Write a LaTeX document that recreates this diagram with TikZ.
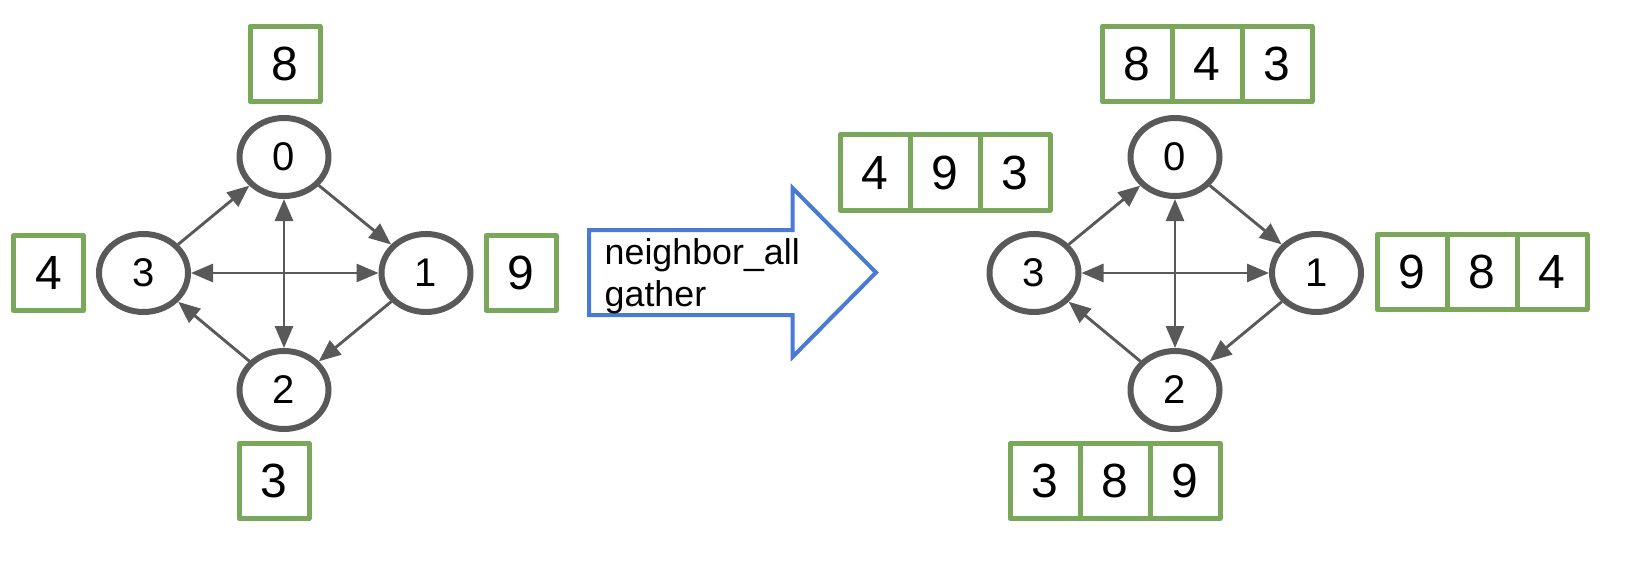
\documentclass[tikz,border=0pt]{standalone}
\usepackage{fontspec}
\setmainfont{Liberation Sans}
\usetikzlibrary{arrows.meta,shapes.geometric}
\definecolor{ggray}{HTML}{595959}
\definecolor{gbox}{HTML}{79A85B}
\definecolor{bluearrow}{HTML}{4A7BD4}
\begin{document}
\begin{tikzpicture}[x=1pt,y=-1pt,
  vnode/.style={ellipse, draw=ggray, line width=6pt, minimum width=89pt, minimum height=78pt, inner sep=0pt, font=\fontsize{40}{40}\selectfont},
  cell/.style={rectangle, draw=gbox, line width=5pt, line join=round, minimum width=70pt, minimum height=75pt, inner sep=0pt, font=\fontsize{48}{48}\selectfont},
  edge/.style={draw=ggray, line width=2.9pt, -{Triangle[length=22pt,width=18pt]}},
  bedge/.style={draw=ggray, line width=2.9pt, {Triangle[length=22pt,width=18pt]}-{Triangle[length=22pt,width=18pt]}},
  lbl/.style={anchor=base west, align=left, inner sep=0pt, font=\fontsize{35.8}{42}\selectfont}
]
\useasboundingbox (0,0) rectangle (1632,580);

% left graph
\node[vnode] (L0) at (284,157) {0};
\node[vnode] (L1) at (426,273) {1};
\node[vnode] (L2) at (284,390) {2};
\node[vnode] (L3) at (143.5,273) {3};
\draw[edge] (L0) -- (L1);
\draw[edge] (L1) -- (L2);
\draw[edge] (L2) -- (L3);
\draw[edge] (L3) -- (L0);
\draw[bedge] (L0) -- (L2);
\draw[bedge] (L3) -- (L1);

\node[cell] (b8) at (285,64) {8};
\node[cell] (b4) at (48.5,273) {4};
\node[cell] (b9) at (521,273) {9};
\node[cell] (b3) at (274,481) {3};

% big arrow
\draw[bluearrow, line width=4pt, line join=miter] (589,230) -- (792.5,230) -- (792.5,188) -- (876,272.5) -- (792.5,357) -- (792.5,315) -- (589,315) -- cycle;
\node[lbl] (txt) at (604.5,306) {neighbor\_all\\gather};

% right graph
\node[vnode] (R0) at (1175,157) {0};
\node[vnode] (R1) at (1316.5,273) {1};
\node[vnode] (R2) at (1175,390) {2};
\node[vnode] (R3) at (1034,273) {3};
\draw[edge] (R0) -- (R1);
\draw[edge] (R1) -- (R2);
\draw[edge] (R2) -- (R3);
\draw[edge] (R3) -- (R0);
\draw[bedge] (R0) -- (R2);
\draw[bedge] (R3) -- (R1);

\node[cell] (c1) at (875,172.5) {4};
\node[cell] (c2) at (945,172.5) {9};
\node[cell] (c3) at (1015,172.5) {3};

\node[cell] (d1) at (1137,64) {8};
\node[cell] (d2) at (1207,64) {4};
\node[cell] (d3) at (1277,64) {3};

\node[cell] (e1) at (1412,272) {9};
\node[cell] (e2) at (1482,272) {8};
\node[cell] (e3) at (1552,272) {4};

\node[cell] (f1) at (1045,481) {3};
\node[cell] (f2) at (1115,481) {8};
\node[cell] (f3) at (1185,481) {9};
\end{tikzpicture}
\end{document}
